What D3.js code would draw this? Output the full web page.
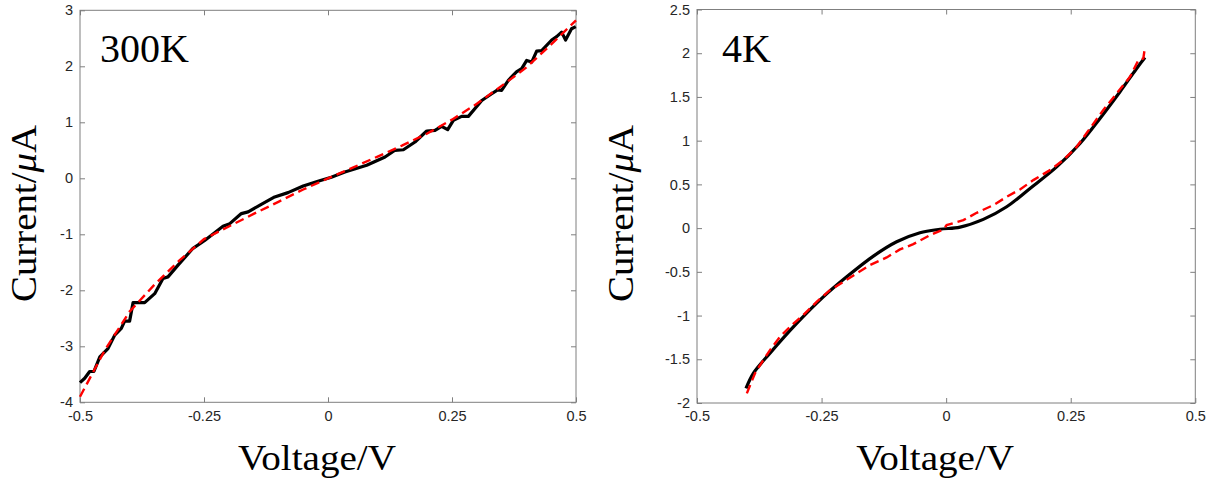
<!DOCTYPE html>
<html>
<head>
<meta charset="utf-8">
<script src="https://cdn.jsdelivr.net/npm/d3@7"></script>
<style>
  body { margin: 0; background: #fff; }
  svg { display: block; }
  .tick text { font-family: "Liberation Sans", Arial, sans-serif; font-size: 14.5px; fill: #262626; }
  .tick line, .domain { stroke: #7f7f7f; }
</style>
</head>
<body>
<div id="chart"></div>
<script>
// 300K measured curve
const voltage300 = [-0.5, -0.4905, -0.4805, -0.472, -0.46, -0.4436, -0.43, -0.4167, -0.41, -0.4, -0.393, -0.3696,
  -0.3494, -0.3327, -0.3226, -0.3024, -0.2722, -0.2486, -0.2117, -0.198, -0.1747, -0.161, -0.1345, -0.1075,
  -0.0806, -0.05, -0.0202, 0.0067, 0.034, 0.078, 0.115, 0.135, 0.152, 0.1754, 0.199, 0.2157, 0.229, 0.2413,
  0.2527, 0.2695, 0.283, 0.31, 0.33, 0.342, 0.35, 0.3636, 0.38, 0.3905, 0.4006, 0.4107, 0.4207, 0.4308, 0.451,
  0.461, 0.471, 0.479, 0.491, 0.4995];
const current300 = [-3.65, -3.57, -3.45, -3.45, -3.19, -3.04, -2.8, -2.68, -2.55, -2.55, -2.22, -2.22,
  -2.06, -1.79, -1.76, -1.55, -1.25, -1.11, -0.857, -0.81, -0.63, -0.6, -0.464, -0.333,
  -0.256, -0.137, -0.054, 0.02, 0.113, 0.232, 0.38, 0.5, 0.51, 0.648, 0.844, 0.856, 0.928, 0.868,
  1.035, 1.106, 1.106, 1.39, 1.51, 1.58, 1.57, 1.75, 1.9, 1.96, 2.105, 2.075, 2.27, 2.28, 2.47,
  2.53, 2.61, 2.47, 2.67, 2.71];

// 300K fit
const fitVoltage300 = [-0.5, -0.45, -0.4, -0.35, -0.3, -0.25, -0.2, -0.15, -0.1, -0.05, 0, 0.05, 0.1, 0.15,
  0.2, 0.25, 0.3, 0.35, 0.4, 0.45, 0.5];
const fitCurrent300 = [-3.9, -3.07, -2.38, -1.9, -1.47, -1.085, -0.86, -0.636, -0.42, -0.2, 0, 0.19, 0.388, 0.587,
  0.8, 1.047, 1.33, 1.65, 1.98, 2.39, 2.82];

// 4K measured curve
const voltage4 = [-0.4017, -0.387, -0.3535, -0.3, -0.2465, -0.1996, -0.146, -0.0993, -0.0525, -0.0124, 0.028,
  0.0746, 0.1215, 0.1683, 0.2218, 0.2686, 0.3087, 0.3489, 0.3823, 0.399];
const current4 = [-1.833, -1.66, -1.43, -1.09, -0.786, -0.557, -0.32, -0.156, -0.053, -0.013, 0.012,
  0.1, 0.244, 0.454, 0.7, 0.968, 1.254, 1.56, 1.826, 1.95];

// 4K fit
const fitVoltage4 = [-0.4, -0.3836, -0.367, -0.3535, -0.3334, -0.31, -0.2867, -0.2599, -0.2331, -0.2063, -0.1796,
  -0.1528, -0.1193, -0.0926, -0.0659, -0.0324, -0.0057, 0.001, 0.0345, 0.0613, 0.0948, 0.1215, 0.1482, 0.175,
  0.2084, 0.2352, 0.262, 0.2886, 0.3154, 0.3422, 0.369, 0.3857, 0.3957, 0.399];
const fitCurrent4 = [-1.89, -1.66, -1.51, -1.395, -1.243, -1.11, -0.995, -0.843, -0.709, -0.614, -0.518,
  -0.423, -0.335, -0.244, -0.183, -0.08, -0.015, 0.034, 0.091, 0.175, 0.263, 0.358, 0.442, 0.549,
  0.663, 0.778, 0.93, 1.14, 1.35, 1.54, 1.73, 1.92, 1.94, 2.07];

const xTicks = [-0.5, -0.25, 0, 0.25, 0.5];
const xTickLabels = ["-0.5", "-0.25", "0", "0.25", "0.5"];
const yTicks300 = [-4, -3, -2, -1, 0, 1, 2, 3];
const yTickLabels300 = ["-4", "-3", "-2", "-1", "0", "1", "2", "3"];
const yTicks4 = [-2, -1.5, -1, -0.5, 0, 0.5, 1, 1.5, 2, 2.5];
const yTickLabels4 = ["-2", "-1.5", "-1", "-0.5", "0", "0.5", "1", "1.5", "2", "2.5"];

var svg = d3.select("#chart")
  .append("svg")
    .attr("width", 1232)
    .attr("height", 487);

function drawPanel(opt) {
  var width = opt.width, height = opt.height;
  var g = svg.append("g")
    .attr("transform", `translate(${opt.left}, ${opt.top})`);

  var xScale = d3.scaleLinear().domain([-0.5, 0.5]).range([0, width]);
  var yScale = d3.scaleLinear().domain(opt.yDomain).range([height, 0]);

  // box
  g.append("rect")
    .attr("width", width)
    .attr("height", height)
    .attr("fill", "none")
    .attr("stroke", "#7f7f7f")
    .attr("stroke-width", 1);

  g.append("g")
    .attr("transform", `translate(0, ${height})`)
    .call(d3.axisBottom(xScale).tickValues(xTicks).tickSizeInner(-5).tickSizeOuter(0).tickPadding(8)
      .tickFormat((d, i) => xTickLabels[i]))
    .call(a => a.select(".domain").remove());
  g.append("g")
    .call(d3.axisTop(xScale).tickValues(xTicks).tickSizeInner(-5).tickSizeOuter(0).tickFormat(""))
    .call(a => a.select(".domain").remove());
  g.append("g")
    .call(d3.axisLeft(yScale).tickValues(opt.yTicks).tickSizeInner(-5).tickSizeOuter(0).tickPadding(7)
      .tickFormat((d, i) => opt.yTickLabels[i]))
    .call(a => a.select(".domain").remove());
  g.append("g")
    .attr("transform", `translate(${width}, 0)`)
    .call(d3.axisRight(yScale).tickValues(opt.yTicks).tickSizeInner(-5).tickSizeOuter(0).tickFormat(""))
    .call(a => a.select(".domain").remove());

  var line = d3.line()
    .x(d => xScale(d[0]))
    .y(d => yScale(d[1]));

  // smooth measured curve for 4K, raw for 300K
  var dataLine = d3.line()
    .x(d => xScale(d[0]))
    .y(d => yScale(d[1]))
    .curve(opt.smooth ? d3.curveCatmullRom : d3.curveLinear);

  g.append("path")
    .datum(opt.voltage.map((v, i) => [v, opt.current[i]]))
    .attr("fill", "none")
    .attr("stroke", "#000")
    .attr("stroke-width", 3.2)
    .attr("stroke-linejoin", "round")
    .attr("d", dataLine);

  g.append("path")
    .datum(opt.fitVoltage.map((v, i) => [v, opt.fitCurrent[i]]))
    .attr("fill", "none")
    .attr("stroke", "#ff0000")
    .attr("stroke-width", 2.4)
    .attr("stroke-dasharray", "9,5")
    .attr("d", line);

  // temperature label
  g.append("text")
    .attr("x", opt.tagX)
    .attr("y", 62 - opt.top)
    .attr("font-family", "Liberation Serif, Times New Roman, serif")
    .attr("font-size", 40)
    .attr("fill", "#000")
    .text(opt.tag);

  // axis titles
  svg.append("text")
    .attr("x", opt.left + width / 2 - 11)
    .attr("y", 470)
    .attr("text-anchor", "middle")
    .attr("font-family", "Liberation Serif, Times New Roman, serif")
    .attr("font-size", 35)
    .attr("textLength", 158)
    .attr("lengthAdjust", "spacingAndGlyphs")
    .attr("fill", "#000")
    .text("Voltage/V");

  var yt = svg.append("text")
    .attr("transform", `translate(${opt.yTitleX}, 213.5) rotate(-90)`)
    .attr("text-anchor", "middle")
    .attr("font-family", "Liberation Serif, Times New Roman, serif")
    .attr("font-size", 35)
    .attr("textLength", 177)
    .attr("lengthAdjust", "spacingAndGlyphs")
    .attr("fill", "#000");
  yt.append("tspan").text("Current/");
  yt.append("tspan").attr("font-style", "italic").text("\u03bc");
  yt.append("tspan").text("A");
}

drawPanel({
  left: 80, top: 10.3, width: 496, height: 392,
  yDomain: [-4, 3], yTicks: yTicks300, yTickLabels: yTickLabels300,
  voltage: voltage300, current: current300,
  fitVoltage: fitVoltage300, fitCurrent: fitCurrent300,
  tag: "300K", tagX: 20, yTitleX: 36, smooth: false
});

drawPanel({
  left: 697, top: 9.5, width: 498.3, height: 393.5,
  yDomain: [-2, 2.5], yTicks: yTicks4, yTickLabels: yTickLabels4,
  voltage: voltage4, current: current4,
  fitVoltage: fitVoltage4, fitCurrent: fitCurrent4,
  tag: "4K", tagX: 25, yTitleX: 633, smooth: true
});
</script>
</body>
</html>
